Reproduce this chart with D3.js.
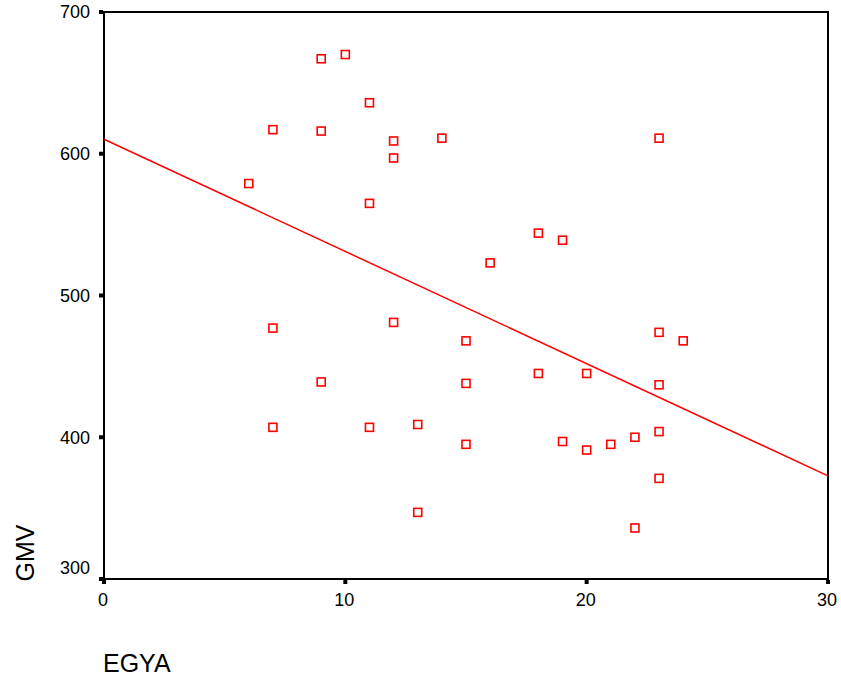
<!DOCTYPE html>
<html><head><meta charset="utf-8">
<script src="https://cdn.jsdelivr.net/npm/d3@7"></script>
<style>body{margin:0;background:#fff}svg{display:block}</style>
</head><body>
<svg id="c" width="841" height="683"></svg>
<script>
const egya = [7,9,10,9,11,12,12,14,6,11,23,18,19,16,7,12,15,23,24,9,15,18,20,23,7,11,13,15,19,20,21,22,23,23,13,22];
const gmv  = [617,667,670,616,636,609,597,611,579,565,611,544,539,523,477,481,468,474,468,439,438,445,445,437,407,407,409,395,397,391,395,400,404,371,347,336];
const fitLine = [[0,610.2],[30,372.8]];
const xTicks = [0,10,20,30];
const yTicks = [300,400,500,600,700];

const svg = d3.select("#c");
const L=104, R=828, T=12, B=579;
const x = d3.scaleLinear().domain([0,30]).range([L,R]);
const y = d3.scaleLinear().domain([300,700]).range([B,T]);
const font = "Liberation Sans, Arial, sans-serif";

// frame
svg.append("rect").attr("x",L).attr("y",T).attr("width",R-L).attr("height",B-T)
  .attr("fill","none").attr("stroke","#000").attr("stroke-width",2);

// y ticks
yTicks.forEach(v=>{
  svg.append("rect").attr("x",L-5).attr("y",y(v)-2).attr("width",4).attr("height",4).attr("fill","#000");
  svg.append("text").attr("x",L-14).attr("y",y(v) + (v===300 ? -11 : 0)).attr("dy","0.36em")
    .attr("text-anchor","end").attr("font-family",font).attr("font-size",18).text(v);
});
// x ticks
xTicks.forEach(v=>{
  svg.append("rect").attr("x",x(v)-2).attr("y",B+1).attr("width",4).attr("height",4).attr("fill","#000");
  svg.append("text").attr("x",x(v)-1).attr("y",B+21).attr("dy","0.36em")
    .attr("text-anchor","middle").attr("font-family",font).attr("font-size",18).text(v);
});

// axis titles
svg.append("text").attr("transform","translate(34,553) rotate(-90)")
  .attr("text-anchor","middle").attr("font-family",font).attr("font-size",25).text("GMV");
svg.append("text").attr("x",L-1).attr("y",672)
  .attr("font-family",font).attr("font-size",25).text("EGYA");

// fit line
svg.append("line").attr("x1",x(fitLine[0][0])).attr("y1",y(fitLine[0][1]))
  .attr("x2",x(fitLine[1][0])).attr("y2",y(fitLine[1][1]))
  .attr("stroke","#ff0000").attr("stroke-width",1.5);

// points
const s=8;
svg.selectAll("rect.pt").data(egya.map((e,i)=>[e,gmv[i]])).enter().append("rect")
  .attr("class","pt").attr("x",d=>x(d[0])-s/2).attr("y",d=>y(d[1])-s/2)
  .attr("width",s).attr("height",s).attr("fill","none").attr("stroke","#ff0000").attr("stroke-width",1.6);
</script>
</body></html>
